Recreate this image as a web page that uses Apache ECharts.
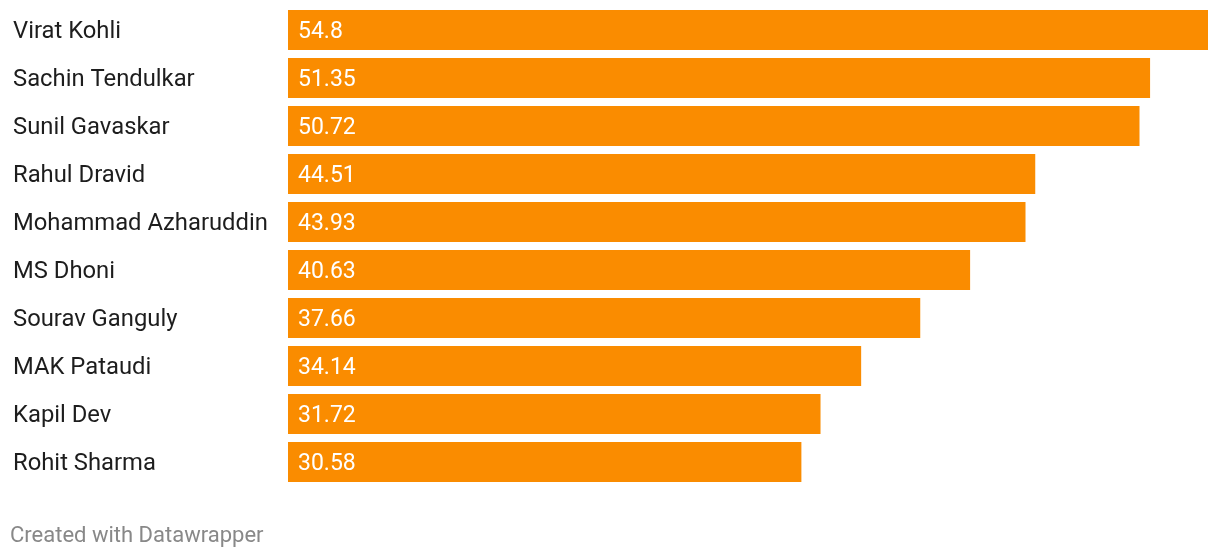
<!DOCTYPE html>
<html>
<head>
<meta charset="utf-8">
<script src="https://cdn.jsdelivr.net/npm/echarts@6/dist/echarts.min.js"></script>
<style>
html,body{margin:0;padding:0;background:#fff;}
#chart{width:1220px;height:558px;}
</style>
</head>
<body>
<div id="chart"></div>
<script>
const players = ["Virat Kohli","Sachin Tendulkar","Sunil Gavaskar","Rahul Dravid","Mohammad Azharuddin","MS Dhoni","Sourav Ganguly","MAK Pataudi","Kapil Dev","Rohit Sharma"];
const averages = [54.8, 51.35, 50.72, 44.51, 43.93, 40.63, 37.66, 34.14, 31.72, 30.58];
const footerText = "Created with Datawrapper";

const chart = echarts.init(document.getElementById('chart'), null, {renderer:'canvas'});
chart.setOption({
  backgroundColor: '#ffffff',
  animation: false,
  grid: {left: 288, right: 12, top: 6, height: 480, containLabel: false},
  xAxis: {
    type: 'value', min: 0, max: 54.8,
    show: false
  },
  yAxis: {
    type: 'category', data: players, inverse: true,
    axisLine: {show: false}, axisTick: {show: false}, splitLine: {show: false},
    axisLabel: {
      align: 'left', margin: 275,
      formatter: v => '{n|' + v + '}',
      rich: {
        n: {color: '#1d1d1d', fontFamily: 'Roboto', fontSize: 23.8, padding: [5, 0, 0, 0]}
      }
    }
  },
  series: [{
    type: 'bar', data: averages, barWidth: 40,
    itemStyle: {color: '#fa8c00'},
    label: {
      show: true, position: 'insideLeft', distance: 10, offset: [0, 2],
      color: '#ffffff', fontFamily: 'Roboto', fontSize: 23,
      formatter: p => String(p.value)
    }
  }],
  graphic: [{
    type: 'text', left: 10, top: 525,
    style: {text: footerText, fill: '#888888', font: '22px Roboto'}
  }]
});
</script>
</body>
</html>
